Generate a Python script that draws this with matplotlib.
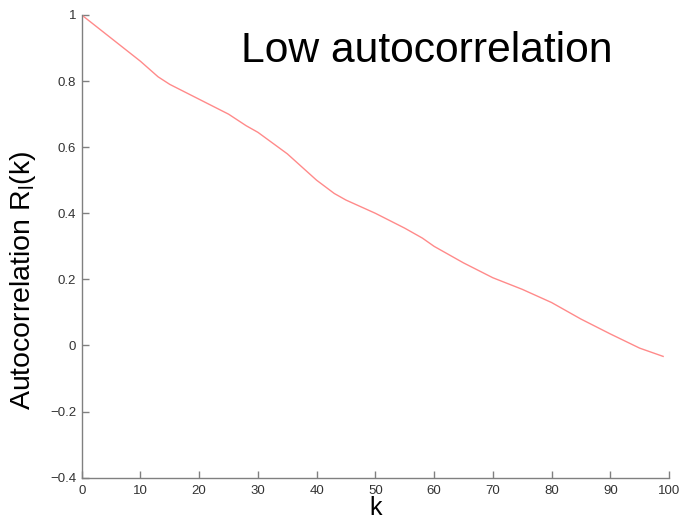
import matplotlib
matplotlib.use("Agg")
import matplotlib.pyplot as plt

plt.rcParams['font.family'] = ['Liberation Sans', 'DejaVu Sans']
plt.rcParams['mathtext.default'] = 'regular'

# Autocorrelation vs lag
lags = [0, 5, 10, 13, 15, 20, 25, 28, 30, 35, 40, 43, 45, 50, 55, 58, 60,
        65, 70, 75, 80, 85, 90, 95, 99]
autocorr = [1.000, 0.930, 0.860, 0.813, 0.790, 0.745, 0.700, 0.665, 0.645,
            0.580, 0.500, 0.460, 0.440, 0.400, 0.355, 0.325, 0.300, 0.250,
            0.205, 0.170, 0.130, 0.080, 0.035, -0.008, -0.033]

xticks = [0, 10, 20, 30, 40, 50, 60, 70, 80, 90, 100]
yticks = [-0.4, -0.2, 0, 0.2, 0.4, 0.6, 0.8, 1]
yticklabels = ['\u22120.4', '\u22120.2', '0', '0.2', '0.4', '0.6', '0.8', '1']

fig = plt.figure(figsize=(6.81, 5.19), dpi=100)
ax = fig.add_axes([0.120, 0.0796, 0.8624, 0.8915])

ax.plot(lags, autocorr, color='#ff8a8a', linewidth=1.0)

ax.set_xlim(0, 100)
ax.set_ylim(-0.4, 1)
ax.set_xticks(xticks)
ax.set_yticks(yticks)
ax.set_yticklabels(yticklabels)

for side in ('top', 'right'):
    ax.spines[side].set_visible(False)
for side in ('left', 'bottom'):
    ax.spines[side].set_color('#808080')
    ax.spines[side].set_linewidth(1.0)

ax.tick_params(direction='in', length=5, width=1, color='#808080',
               labelsize=9.5, labelcolor='#333333')
ax.tick_params(axis='x', pad=5)
ax.tick_params(axis='y', pad=4)

ax.set_xlabel('k', fontsize=18)
ax.xaxis.label.set_va('top')
ax.xaxis.set_label_coords(0.50, -0.040)

fig.text(0.034, 0.46, 'Autocorrelation R$_{l}$(k)', rotation=90,
         fontsize=20.5, ha='center', va='center')

ax.text(0.588, 0.922, 'Low autocorrelation', transform=ax.transAxes,
        fontsize=30.7, ha='center', va='center')

fig.savefig('out.png', dpi=100)
